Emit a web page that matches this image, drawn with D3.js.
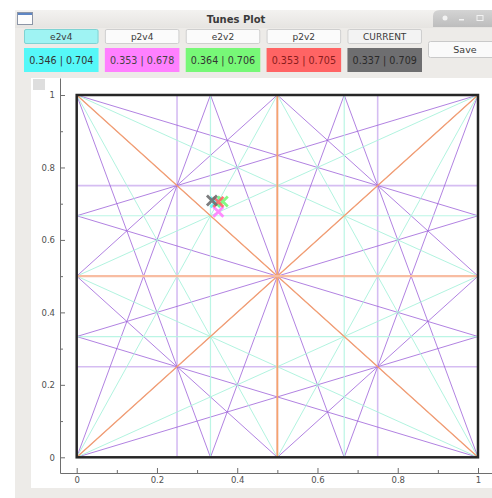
<!DOCTYPE html>
<html>
<head>
<meta charset="utf-8">
<script src="https://cdn.jsdelivr.net/npm/d3@7"></script>
<style>
  html, body { margin: 0; padding: 0; background: #ffffff; }
  svg { display: block; font-family: "DejaVu Sans", sans-serif; }
</style>
</head>
<body>
<svg id="win" width="492" height="498"></svg>
<script>
// Tune sources shown in the toolbar and plotted as markers
const sourceLabels = ["e2v4", "p2v4", "e2v2", "p2v2", "CURRENT"];
const tuneX = [0.346, 0.353, 0.364, 0.353, 0.337];
const tuneY = [0.704, 0.678, 0.706, 0.705, 0.709];
const sourceColors = ["#55f8f8", "#ff80ff", "#77f877", "#ff6464", "#6e6e70"];
const valueTextColors = ["#333333", "#444444", "#333333", "#8a1c1c", "#2a2a2a"];

// Axis ticks
const majorTicks = [0, 0.2, 0.4, 0.6, 0.8, 1];
const minorTicks = [0.1, 0.3, 0.5, 0.7, 0.9];

// Resonance coefficients (m, n) per order: m*Qx + n*Qy = integer
const order2 = [[2, 0], [0, 2], [1, 1], [1, -1]];
const order3 = [[3, 0], [0, 3], [2, 1], [1, 2], [2, -1], [1, -2]];
const order4 = [[4, 0], [0, 4], [3, 1], [1, 3], [2, 2], [2, -2], [3, -1], [1, -3]];
const orderStyles = [
  { coeffs: order4, color: "#9b5fd8", width: 1, opacity: 0.78, flatColor: "#c9aaee", flatWidth: 1.6 },
  { coeffs: order3, color: "#a8f2dc", width: 1, opacity: 0.9, flatColor: "#b4f4e2", flatWidth: 1.2 },
  { coeffs: order2, color: "#f7a06c", width: 1.3, opacity: 0.95, flatColor: "#f7a46c", flatWidth: 1.8 }
];

const svg = d3.select("#win");

// ---------- window frame ----------
svg.append("rect").attr("x", 15).attr("y", 10).attr("width", 477).attr("height", 488).attr("fill", "#edebe8");
// title bar
const defs = svg.append("defs");
const tg = defs.append("linearGradient").attr("id", "tbar").attr("x1", 0).attr("x2", 0).attr("y1", 0).attr("y2", 1);
tg.append("stop").attr("offset", 0).attr("stop-color", "#f3f2f0");
tg.append("stop").attr("offset", 1).attr("stop-color", "#e6e4e1");
svg.append("rect").attr("x", 15).attr("y", 10).attr("width", 477).attr("height", 18).attr("fill", "url(#tbar)");
const bg2 = defs.append("linearGradient").attr("id", "tbtn").attr("x1", 0).attr("x2", 0).attr("y1", 0).attr("y2", 1);
bg2.append("stop").attr("offset", 0).attr("stop-color", "#d4d4d4");
bg2.append("stop").attr("offset", 1).attr("stop-color", "#bdbdbd");
svg.append("path").attr("d", "M492,10 H440 Q433,10 433,16 V27 H492 Z").attr("fill", "url(#tbtn)");
// window control glyphs
svg.append("circle").attr("cx", 445).attr("cy", 18).attr("r", 2.5).attr("fill", "#f2f2f2");
svg.append("rect").attr("x", 459).attr("y", 19).attr("width", 5).attr("height", 1.5).attr("fill", "#f2f2f2");
svg.append("rect").attr("x", 477).attr("y", 15.5).attr("width", 6).attr("height", 5).attr("fill", "none").attr("stroke", "#f2f2f2").attr("stroke-width", 1);
// window icon
svg.append("rect").attr("x", 17.5).attr("y", 12.5).attr("width", 15).attr("height", 12).attr("fill", "#fdfdfd").attr("stroke", "#8c95a6").attr("stroke-width", 1);
svg.append("rect").attr("x", 18).attr("y", 13).attr("width", 14).attr("height", 2).attr("fill", "#5e86c4");
svg.append("text").attr("x", 236).attr("y", 22.5).attr("text-anchor", "middle")
  .attr("font-size", 10).attr("font-weight", "bold").attr("fill", "#3a3a3a").text("Tunes Plot");

// ---------- toolbar: source buttons and value boxes ----------
const bx = d3.scaleBand().domain(sourceLabels).range([24, 422]).paddingInner(0.078);
sourceLabels.forEach((lab, i) => {
  const x0 = bx(lab), w = bx.bandwidth();
  const selected = i === 0;
  svg.append("rect").attr("x", x0 + 0.5).attr("y", 29.5).attr("width", w - 1).attr("height", 14)
    .attr("rx", 1.5)
    .attr("fill", selected ? "#9ff3f3" : (lab === "CURRENT" ? "#f3f3f3" : "#fbfbfb"))
    .attr("stroke", selected ? "#7fd3d3" : "#cfcfcf");
  svg.append("text").attr("x", x0 + w / 2).attr("y", 39.8).attr("text-anchor", "middle")
    .attr("font-size", 9).attr("fill", "#3a3a3a").text(lab);
  svg.append("rect").attr("x", x0).attr("y", 48).attr("width", w).attr("height", 24)
    .attr("fill", sourceColors[i]);
  svg.append("text").attr("x", x0 + w / 2).attr("y", 63.5).attr("text-anchor", "middle")
    .attr("font-size", 9.6).attr("fill", valueTextColors[i])
    .text(d3.format(".3f")(tuneX[i]) + " | " + d3.format(".3f")(tuneY[i]));
});
// Save button
svg.append("rect").attr("x", 428.5).attr("y", 41.5).attr("width", 70).attr("height", 16).attr("rx", 2)
  .attr("fill", "#fafafa").attr("stroke", "#c9c9c9");
svg.append("text").attr("x", 465).attr("y", 53).attr("text-anchor", "middle")
  .attr("font-size", 9.5).attr("fill", "#3a3a3a").text("Save");

// ---------- plot widget ----------
svg.append("rect").attr("x", 31).attr("y", 78).attr("width", 461).attr("height", 410).attr("fill", "#ffffff");
svg.append("rect").attr("x", 33).attr("y", 79).attr("width", 12).attr("height", 11).attr("fill", "#dedede");

const x = d3.scaleLinear().domain([0, 1]).range([76.7, 478]);
const y = d3.scaleLinear().domain([0, 1]).range([457.3, 95]);

// axis scales span the full view box
const xAxisScale = d3.scaleLinear().domain([x.invert(60), x.invert(492)]).range([60, 492]);
const yAxisScale = d3.scaleLinear().domain([y.invert(473), y.invert(78)]).range([473, 78]);

const plot = svg.append("g");

// resonance lines, clipped to the unit tune square
function segment(m, n, p) {
  const pts = [];
  const add = (qx, qy) => {
    if (qx < -1e-9 || qx > 1 + 1e-9 || qy < -1e-9 || qy > 1 + 1e-9) return;
    if (!pts.some(q => Math.abs(q[0] - qx) < 1e-9 && Math.abs(q[1] - qy) < 1e-9)) pts.push([qx, qy]);
  };
  if (n !== 0) { add(0, p / n); add(1, (p - m) / n); }
  if (m !== 0) { add(p / m, 0); add((p - n) / m, 1); }
  return pts.length >= 2 ? [pts[0], pts[1]] : null;
}
orderStyles.forEach(st => {
  const segs = [];
  st.coeffs.forEach(([m, n]) => {
    const lo = Math.min(0, m) + Math.min(0, n), hi = Math.max(0, m) + Math.max(0, n);
    for (let p = lo; p <= hi; p++) {
      const s = segment(m, n, p);
      if (!s) continue;
      // lines lying on the square's edges are the first-order border
      const onEdge = (s[0][0] === s[1][0] && (s[0][0] === 0 || s[0][0] === 1)) ||
                     (s[0][1] === s[1][1] && (s[0][1] === 0 || s[0][1] === 1));
      if (!onEdge) segs.push({ s, flat: m === 0 || n === 0, horiz: m === 0 });
    }
  });
  plot.append("g").selectAll("line").data(segs).join("line")
    .attr("x1", d => x(d.s[0][0])).attr("y1", d => y(d.s[0][1]))
    .attr("x2", d => x(d.s[1][0])).attr("y2", d => y(d.s[1][1]))
    .attr("stroke", d => d.flat ? st.flatColor : st.color)
    .attr("stroke-width", d => d.flat ? st.flatWidth : st.width)
    .attr("stroke-opacity", d => d.flat && st.coeffs === order2 ? 1 : st.opacity);
});
// the half-integer horizontal line renders wide and pale
plot.append("line").attr("x1", x(0)).attr("x2", x(1)).attr("y1", y(0.5)).attr("y2", y(0.5))
  .attr("stroke", "#f8bda2").attr("stroke-width", 2.4);

// first-order resonances: the square border
plot.append("rect").attr("x", x(0)).attr("y", y(1)).attr("width", x(1) - x(0)).attr("height", y(0) - y(1))
  .attr("fill", "none").attr("stroke", "#262626").attr("stroke-width", 2.5);

// tune markers
const s = 5;
plot.append("g").selectAll("path").data(d3.range(tuneX.length)).join("path")
  .attr("d", i => {
    const cx = x(tuneX[i]), cy = y(tuneY[i]);
    return `M${cx - s},${cy - s}L${cx + s},${cy + s}M${cx - s},${cy + s}L${cx + s},${cy - s}`;
  })
  .attr("stroke", i => sourceColors[i]).attr("stroke-width", 2.8).attr("fill", "none").attr("stroke-opacity", 0.9);

// axes
const xAxis = d3.axisBottom(xAxisScale).tickValues(majorTicks).tickSizeInner(-5).tickSizeOuter(0).tickPadding(3.5)
  .tickFormat(d3.format("~g"));
svg.append("g").attr("transform", "translate(0,473)").call(xAxis);
const gxMinor = svg.append("g").attr("transform", "translate(0,473)")
  .call(d3.axisBottom(xAxisScale).tickValues(minorTicks).tickSizeInner(-3).tickSizeOuter(0).tickFormat(""));
gxMinor.select(".domain").remove();

const yAxis = d3.axisLeft(yAxisScale).tickValues(majorTicks).tickSizeInner(-5).tickSizeOuter(0).tickPadding(5)
  .tickFormat(d3.format("~g"));
svg.append("g").attr("transform", "translate(60,0)").call(yAxis);
const gyMinor = svg.append("g").attr("transform", "translate(60,0)")
  .call(d3.axisLeft(yAxisScale).tickValues(minorTicks).tickSizeInner(-3).tickSizeOuter(0).tickFormat(""));
gyMinor.select(".domain").remove();

svg.selectAll(".domain").attr("stroke", "#6e6e6e");
svg.selectAll(".tick line").attr("stroke", "#6e6e6e");
svg.selectAll(".tick text").attr("fill", "#505050").attr("font-size", 8.5).attr("font-family", "DejaVu Sans, sans-serif");
</script>
</body>
</html>
